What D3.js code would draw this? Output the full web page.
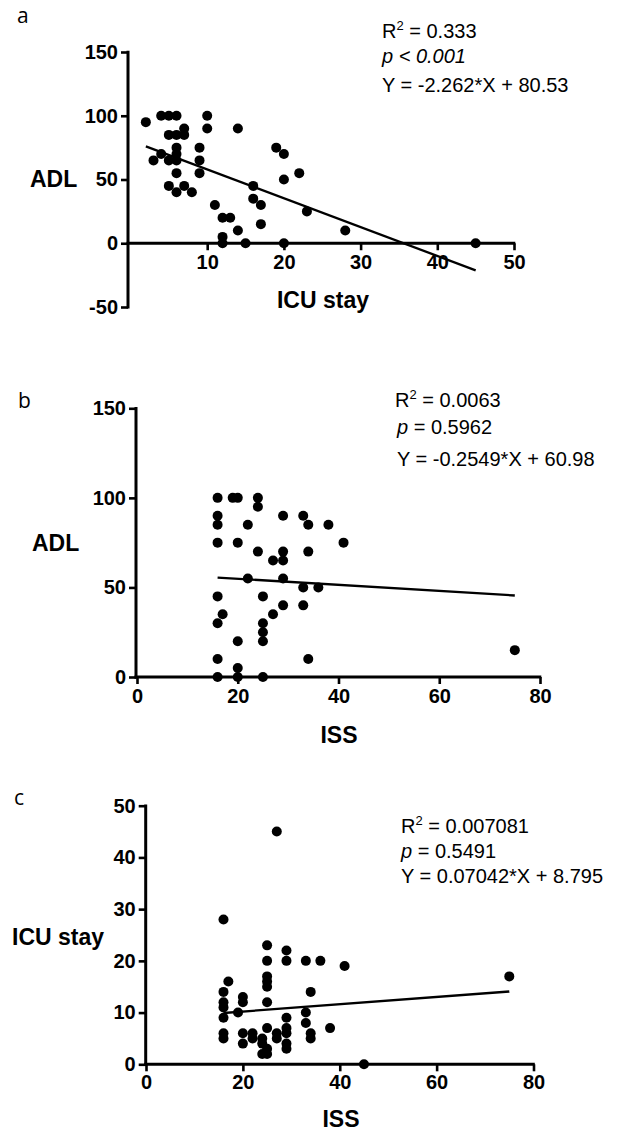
<!DOCTYPE html>
<html>
<head>
<meta charset="utf-8">
<script src="https://cdn.jsdelivr.net/npm/d3@7"></script>
<style>
  html, body { margin: 0; padding: 0; background: #fff; }
  svg { display: block; }
</style>
</head>
<body>
<svg id="chart" width="619" height="1132"></svg>
<script>
// ---------- DATA ----------
// Panel a: ICU stay (x) vs ADL (y)
const icuStayA = [2,3,4,5,6,4,5,6,7,7,6,6,6,5,5,6,7,8,6,9,9,9,10,10,11,12,13,12,12,14,14,15,16,16,17,17,19,20,20,20,22,23,28,45];
const adlA     = [95,65,100,100,100,70,85,85,85,90,75,70,65,65,45,40,45,40,55,75,65,55,100,90,30,20,20,5,0,90,10,0,45,35,30,15,75,70,50,0,55,25,10,0];
const fitA = { x: [2, 45], slope: -2.262, intercept: 80.53 };
const statsA = ["0.333", "p < 0.001", "Y = -2.262*X + 80.53"];

// Panel b: ISS (x) vs ADL (y)
const issB = [16,19,20,24,24,16,16,22,29,33,34,38,16,20,24,27,29,29,34,41,22,29,33,36,16,25,17,16,27,29,33,25,25,25,20,16,34,20,16,20,25,75];
const adlB = [100,100,100,100,95,90,85,85,90,90,85,85,75,75,70,65,70,65,70,75,55,55,50,50,45,45,35,30,35,40,40,30,25,20,20,10,10,5,0,0,0,15];
const fitB = { x: [16, 75], y: [55.5, 45.5] };
const statsB = ["0.0063", "0.5962", "Y = -0.2549*X + 60.98"];

// Panel c: ISS (x) vs ICU stay (y)
const issC = [27,16,17,16,16,16,16,16,16,19,20,20,20,20,22,22,25,25,25,25,25,25,25,24,24,24,25,25,27,27,29,29,29,29,29,29,29,33,36,41,34,33,33,34,34,38,45,75];
const icuC = [45,28,16,14,12,11,9,6,5,10,13,12,6,4,6,5,23,20,17,16,15,12,7,5,4,2,3,2,6,5,22,20,9,7,6,4,3,20,20,19,14,10,8,6,5,7,0,17];
const fitC = { x: [16, 75], slope: 0.07042, intercept: 8.795 };
const statsC = ["0.007081", "0.5491", "Y = 0.07042*X + 8.795"];

// Tick values
const yTicksA = [-50, 0, 50, 100, 150];
const xTicksA = [10, 20, 30, 40, 50];
const yTicksB = [0, 50, 100, 150];
const xTicksB = [0, 20, 40, 60, 80];
const yTicksC = [0, 10, 20, 30, 40, 50];
const xTicksC = [0, 20, 40, 60, 80];

// ---------- DRAW ----------
const svg = d3.select("#chart");
const FONT = '"Liberation Sans", Arial, sans-serif';
const fmt = v => String(v); // plain hyphen-minus as in the reference

function panel(cfg) {
  const g = svg.append("g");
  const x = d3.scaleLinear().domain(cfg.xDomain).range(cfg.xRange);
  const y = d3.scaleLinear().domain(cfg.yDomain).range(cfg.yRange);

  const ya = g.append("g")
    .attr("transform", `translate(${cfg.yAxisX},0)`)
    .call(d3.axisLeft(y).tickValues(cfg.yTicks).tickFormat(fmt).tickSize(7).tickPadding(3).tickSizeOuter(0));
  const xa = g.append("g")
    .attr("transform", `translate(0,${y(0)})`)
    .call(d3.axisBottom(x).tickValues(cfg.xTicks).tickFormat(fmt).tickSize(7).tickPadding(cfg.xTickPad).tickSizeOuter(0));
  [ya, xa].forEach(a => {
    a.attr("font-family", FONT).attr("font-size", 20).attr("font-weight", "bold");
    a.selectAll(".domain").attr("stroke", "#000").attr("stroke-width", 3);
    a.selectAll(".tick line").attr("stroke", "#000").attr("stroke-width", 2.6);
    a.selectAll(".tick text").attr("fill", "#000")
      .attr("font-family", FONT).attr("font-size", 20).attr("font-weight", "bold");
  });
  xa.select(".domain").attr("d", `M${cfg.yAxisX - 1.5},0H${x(cfg.xDomain[1]) + 1.3}`);
  ya.select(".domain").attr("d", `M0,${y(cfg.yDomain[0]) + 1.5}V${y(cfg.yDomain[1]) - 1.3}`);

  const fx = cfg.fit.x;
  const fy = cfg.fit.y ? cfg.fit.y : fx.map(v => cfg.fit.slope * v + cfg.fit.intercept);
  g.append("line")
    .attr("x1", x(fx[0])).attr("y1", y(fy[0]))
    .attr("x2", x(fx[1])).attr("y2", y(fy[1]))
    .attr("stroke", "#000").attr("stroke-width", 2.3);

  g.selectAll("circle.pt").data(cfg.xs.map((v, i) => [v, cfg.ys[i]]))
    .enter().append("circle")
    .attr("class", "pt")
    .attr("cx", d => x(d[0])).attr("cy", d => y(d[1]))
    .attr("r", 5).attr("fill", "#000");

  g.append("text").attr("x", cfg.xTitlePos[0]).attr("y", cfg.xTitlePos[1])
    .attr("text-anchor", "middle").attr("font-family", FONT).attr("font-weight", "bold")
    .attr("font-size", 23).text(cfg.xTitle);
  g.append("text").attr("x", cfg.yTitlePos[0]).attr("y", cfg.yTitlePos[1])
    .attr("text-anchor", "start").attr("font-family", FONT).attr("font-weight", "bold")
    .attr("font-size", 23).text(cfg.yTitle);

  g.append("text").attr("x", cfg.letterPos[0]).attr("y", cfg.letterPos[1])
    .attr("font-family", '"Open Sans", "Noto Sans", sans-serif').attr("font-size", 21)
    .text(cfg.letter);

  const st = cfg.statsPos;
  const fs = 20;
  const t1 = g.append("text").attr("x", st.x[0]).attr("y", st.y[0])
    .attr("font-family", FONT).attr("font-size", fs);
  t1.append("tspan").text("R");
  t1.append("tspan").attr("font-size", 13).attr("dy", -8).text("2");
  t1.append("tspan").attr("dy", 8).text(" = " + cfg.stats[0]);

  const t2 = g.append("text").attr("x", st.x[1]).attr("y", st.y[1])
    .attr("font-family", FONT).attr("font-size", fs);
  if (cfg.pAllItalic) {
    t2.attr("font-style", "italic").text(cfg.stats[1]);
  } else {
    t2.append("tspan").attr("font-style", "italic").text("p");
    t2.append("tspan").text(" = " + cfg.stats[1]);
  }
  g.append("text").attr("x", st.x[2]).attr("y", st.y[2])
    .attr("font-family", FONT).attr("font-size", fs).text(cfg.stats[2]);
}

panel({
  xs: icuStayA, ys: adlA, fit: fitA, stats: statsA, pAllItalic: true,
  xDomain: [0, 50], xRange: [130.5, 514],
  yDomain: [-50, 150], yRange: [307, 52],
  yAxisX: 128, xTicks: xTicksA, yTicks: yTicksA, xTickPad: 5,
  xTitle: "ICU stay", xTitlePos: [323, 308],
  yTitle: "ADL", yTitlePos: [30, 187],
  letter: "a", letterPos: [17, 23],
  statsPos: { x: [382, 382, 382], y: [38, 63, 92] }
});

panel({
  xs: issB, ys: adlB, fit: fitB, stats: statsB, pAllItalic: false,
  xDomain: [0, 80], xRange: [137, 540],
  yDomain: [0, 150], yRange: [677, 408.3],
  yAxisX: 136, xTicks: xTicksB, yTicks: yTicksB, xTickPad: 5,
  xTitle: "ISS", xTitlePos: [339, 743],
  yTitle: "ADL", yTitlePos: [32, 551],
  letter: "b", letterPos: [18, 408],
  statsPos: { x: [395, 397, 397], y: [407, 434, 466] }
});

panel({
  xs: issC, ys: icuC, fit: fitC, stats: statsC, pAllItalic: false,
  xDomain: [0, 80], xRange: [146, 533.5],
  yDomain: [0, 50], yRange: [1064.3, 805.7],
  yAxisX: 145.7, xTicks: xTicksC, yTicks: yTicksC, xTickPad: 4,
  xTitle: "ISS", xTitlePos: [341, 1127],
  yTitle: "ICU stay", yTitlePos: [12, 945],
  letter: "c", letterPos: [14, 805],
  statsPos: { x: [401, 401, 401], y: [833, 858, 883] }
});
</script>
</body>
</html>
